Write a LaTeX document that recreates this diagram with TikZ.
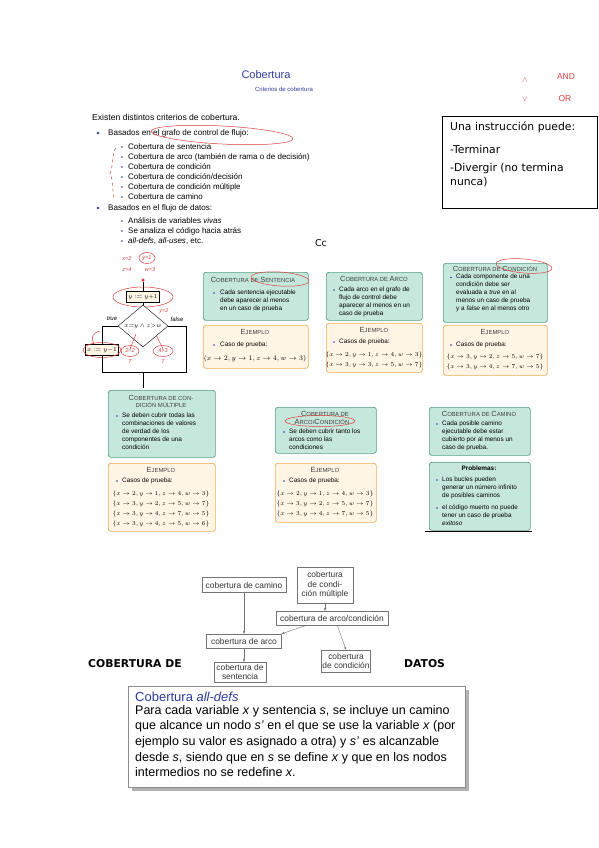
\documentclass[tikz,border=0pt]{standalone}
\usepackage{amsmath,amssymb}
\usepackage{fontspec}
\setmainfont{Liberation Sans}
\newfontfamily\dejavu{DejaVu Sans}
\usetikzlibrary{arrows.meta,positioning,calc,shapes.geometric}
\definecolor{slideblue}{RGB}{45,60,160}
\definecolor{gfill}{RGB}{198,231,219}
\definecolor{gline}{RGB}{85,160,135}
\definecolor{ofill}{RGB}{255,245,228}
\definecolor{oline}{RGB}{240,172,85}
\definecolor{penred}{RGB}{222,62,62}
\newcommand{\fsz}[2]{\fontsize{#1}{#2}\selectfont}
\newcommand{\scap}[2]{{\fsz{7.4}{8}#1}{\fsz{5.9}{8}#2}}

\begin{document}
\begin{tikzpicture}[x=1pt,y=-1pt,
  txt/.style={anchor=west,inner sep=0pt,font=\fsz{8.1}{9}},
  bul/.style={circle,fill=slideblue,inner sep=0pt,minimum size=2.6pt},
  bul2/.style={circle,fill=slideblue,inner sep=0pt,minimum size=1.9pt},
  gb/.style={draw=gline,fill=gfill,rounded corners=2.5pt,line width=0.7pt,anchor=north west,inner sep=0pt},
  ob/.style={draw=oline,fill=ofill,rounded corners=2.5pt,line width=0.7pt,anchor=north west,inner sep=0pt},
  ttl/.style={inner sep=0pt,text=black!75,align=center},
  bt/.style={anchor=north west,inner sep=0pt,align=left,font=\fsz{6.4}{8}},
  bb/.style={circle,fill=slideblue,inner sep=0pt,minimum size=1.7pt},
  ex/.style={inner sep=0pt,font=\fsz{6}{8}},
  fbox/.style={draw,line width=0.9pt,fill=ofill,inner sep=1.5pt,minimum width=33,minimum height=11,font=\fsz{6.5}{8}},
  hw/.style={text=penred,inner sep=0pt,font=\fsz{5.5}{6}\itshape},
  pen/.style={draw=penred,line width=0.5pt},
  cb/.style={draw=black!55,fill=white,inner sep=1pt,align=center,font=\fsz{8.4}{9.5},text=black!80},
  da/.style={draw=black!55,-{Stealth[length=3pt,width=2.5pt]}}]
\newcommand{\caso}[4]{$\{x\to#1, y\to#2, z\to#3, w\to#4\}$}
\fill[white] (0,0) rectangle (599,848);
\useasboundingbox (0,0) rectangle (599,848);
% Slide title and list
\node[inner sep=0pt,text=slideblue,font=\fsz{11}{12}] (sTitle) at (266,75) {Cobertura};
\node[inner sep=0pt,text=slideblue,font=\fsz{6}{7}] (sSub) at (284,89) {Criterios de cobertura};
\node[txt,font=\fsz{8.6}{9}] (tExist) at (92,117) {Existen distintos criterios de cobertura.};
\node[bul] (b1) at (98,133) {};
\node[txt] (tGrafo) at (108,133) {Basados en el grafo de control de flujo:};
\foreach \t [count=\i] in {Cobertura de sentencia, Cobertura de arco (también de rama o de decisión),
  Cobertura de condición, Cobertura de condición/decisión, Cobertura de condición múltiple, Cobertura de camino}
{
  \node[bul2] (bg\i) at (122,137+10*\i) {};
  \node[txt,font=\fsz{8}{9}] (tg\i) at (128,137+10*\i) {\t};
}
\node[bul] (b2) at (98,208) {};
\node[txt] (tDatos) at (108,208) {Basados en el flujo de datos:};
\foreach \t [count=\i] in {Análisis de variables \emph{vivas}, Se analiza el código hacia atrás,
  {\emph{all-defs}, \emph{all-uses}, etc.}}
{
  \node[bul2] (bd\i) at (122,211+10*\i) {};
  \node[txt,font=\fsz{8}{9}] (td\i) at (128,211+10*\i) {\t};
}
\draw[pen,rotate around={-3:(222,135)}] (222,135) ellipse (71 and 9);
\draw[pen,dashed] (116,148) .. controls (112,150) and (113,170) .. (110,173) .. controls (113,176) and (112,195) .. (115,200);
% Note box and marks
\node[draw,line width=0.6pt,minimum width=155,minimum height=92,anchor=north west,inner sep=0pt] (nBox) at (442,116) {};
\node[txt,font=\dejavu\fsz{10.8}{12}] (nA) at (450,127) {Una instrucción puede:};
\node[txt,font=\dejavu\fsz{10.8}{12}] (nB) at (450,149) {-Terminar};
\node[anchor=north west,inner sep=0pt,align=left,font=\dejavu\fsz{10.8}{14}] (nC) at (450,163) {-Divergir (no termina\\nunca)};
\node[text=penred,inner sep=0pt,font=\fsz{8}{9}] (hWedge) at (525,80) {$\wedge$};
\node[text=penred,inner sep=0pt,font=\fsz{8.5}{9}] (hAnd) at (566,77) {AND};
\node[text=penred,inner sep=0pt,font=\fsz{8}{9}] (hVee) at (525,99) {$\vee$};
\node[text=penred,inner sep=0pt,font=\fsz{8.5}{9}] (hOr) at (565,99) {OR};
\node[inner sep=0pt,font=\dejavu\fsz{9.5}{11}] (cc) at (321,243) {Cc};
% Flow chart
\node[hw] (hX) at (127,259) {x=2};
\node[hw] (hY) at (147,258) {y=1};
\draw[pen] (hY) ellipse (8 and 5.5);
\node[hw] (hZ) at (127,270) {z=4};
\node[hw] (hW) at (150,270) {w=3};
\node[circle,fill=penred,inner sep=0pt,minimum size=3.5pt] (fIni) at (143,280) {};
\node[fbox] (fInc) at (143,297) {$y := y{+}1$};
\draw[pen] (fInc) ellipse (30 and 10);
\node[hw] (hY2) at (164,311) {y=2};
\node[draw,diamond,minimum width=50,minimum height=22,inner sep=0pt,font=\fsz{6}{7},fill=white] (fDec) at (143,326) {$x{=}y \wedge z{>}w$};
\node[fbox] (fAsg) at (102,350) {$x := y{-}1$};
\draw[pen] (fAsg) ellipse (19 and 7.5);
\node[inner sep=0pt,font=\fsz{6}{7}\itshape] (fTrue) at (112,319) {true};
\node[inner sep=0pt,font=\fsz{6}{7}\itshape] (fFalse) at (177,319) {false};
\coordinate (fJoin) at (143,372);
\coordinate (fFin) at (143,388);
\coordinate (fDer) at (186,326);
\draw (fIni) -- (fInc);
\draw (fInc) -- (fDec);
\draw (fDec.west) -| (fAsg.north);
\draw (fAsg.south) |- (fJoin);
\draw (fDec.east) -- (fDer) |- (fJoin);
\draw (fJoin) -- (fFin);
\node[hw] (h22) at (130,351) {2=2};
\draw[pen] (h22) ellipse (9 and 5.5);
\node[hw] (hT1) at (130,362) {T};
\node[hw] (h43) at (163,351) {4>3};
\draw[pen] (h43) ellipse (10 and 5.5);
\node[hw] (hT2) at (163,362) {T};
\draw[pen,-{Stealth[length=2pt]}] (136,334) -- (h22.north);
\draw[pen] (156,335) -- (h43.north);
\draw[pen,-{Stealth[length=2pt]}] (100,331) .. controls (92,333) and (91,338) .. (94,344);
\draw[pen] (194,391) -- (200,391) (194,394) -- (200,394) (194,397) -- (199,397);
% Sentencia
\node[gb,minimum width=105,minimum height=48] (gSent) at (203,272) {};
\node[ttl] (gSentT) at (253,280) {\scap{C}{OBERTURA DE }\scap{S}{ENTENCIA}};
\draw[pen,rotate around={-4:(280,279)}] (280,279) ellipse (29 and 7);
\node[bb] (gSentB) at (214,293) {};
\node[bt] (gSentX) at (220,289.5) {Cada sentencia ejecutable\\debe aparecer al menos\\en un caso de prueba};
\node[ob,minimum width=105,minimum height=43] (oSent) at (203,325) {};
\node[ttl] (oSentT) at (255,332) {\scap{E}{JEMPLO}};
\node[bb] (oSentB) at (214,345) {};
\node[txt,font=\fsz{6.4}{8}] (oSentX) at (220,345) {Caso de prueba:};
\node[ex,font=\fsz{6.6}{8}] (oSentM) at (255,359) {$(x\to2, y\to1, z\to4, w\to3)$};
% Arco
\node[gb,minimum width=96,minimum height=48] (gArco) at (326,272) {};
\node[ttl] (gArcoT) at (374,278.5) {\scap{C}{OBERTURA DE }\scap{A}{RCO}};
\node[bb] (gArcoB) at (334,290) {};
\node[bt] (gArcoX) at (339,286.5) {Cada arco en el grafo de\\flujo de control debe\\aparecer al menos en un\\caso de prueba};
\node[ob,minimum width=96,minimum height=49] (oArco) at (326,323) {};
\node[ttl] (oArcoT) at (374,329.5) {\scap{E}{JEMPLO}};
\node[bb] (oArcoB) at (334,342) {};
\node[txt,font=\fsz{6.4}{8}] (oArcoX) at (339,342) {Casos de prueba:};
\node[ex,font=\fsz{5.7}{8}] (oArco1) at (374,355) {\caso{2}{1}{4}{3}};
\node[ex,font=\fsz{5.7}{8}] (oArco2) at (374,365) {\caso{3}{3}{5}{7}};
% Condicion
\node[gb,minimum width=104,minimum height=59] (gCond) at (443,263) {};
\node[ttl] (gCondT) at (495,268.8) {\scap{C}{OBERTURA DE }\scap{C}{ONDICIÓN}};
\draw[pen,rotate around={-5:(524,266)}] (524,266) ellipse (28 and 7);
\node[bb] (gCondB) at (451,277.5) {};
\node[bt] (gCondX) at (456,274) {Cada componente de una\\condición debe ser\\evaluada a \emph{true} en al\\menos un caso de prueba\\y a \emph{false} en al menos otro};
\node[ob,minimum width=104,minimum height=50] (oCond) at (443,325) {};
\node[ttl] (oCondT) at (495,332) {\scap{E}{JEMPLO}};
\node[bb] (oCondB) at (451,345) {};
\node[txt,font=\fsz{6.4}{8}] (oCondX) at (456,345) {Casos de prueba:};
\node[ex] (oCond1) at (495,357) {\caso{3}{2}{5}{7}};
\node[ex] (oCond2) at (495,367) {\caso{3}{4}{7}{5}};
% Condicion multiple
\node[gb,minimum width=107,minimum height=67] (gMult) at (108,390) {};
\node[ttl,font=\fsz{5.9}{7}] (gMultT) at (161,401.5) {\scap{C}{OBERTURA DE CON-}\\DICIÓN MÚLTIPLE};
\node[bb] (gMultB) at (117,416) {};
\node[bt] (gMultX) at (122,412.5) {Se deben cubrir todas las\\combinaciones de valores\\de verdad de los\\componentes de una\\condición};
\node[ob,minimum width=107,minimum height=68] (oMult) at (108,463) {};
\node[ttl] (oMultT) at (161,470) {\scap{E}{JEMPLO}};
\node[bb] (oMultB) at (117,481) {};
\node[txt,font=\fsz{6.4}{8}] (oMultX) at (122,481) {Casos de prueba:};
\node[ex] (oMult1) at (161,494) {\caso{2}{1}{4}{3}};
\node[ex] (oMult2) at (161,504) {\caso{3}{2}{5}{7}};
\node[ex] (oMult3) at (161,514) {\caso{3}{4}{7}{5}};
\node[ex] (oMult4) at (161,524) {\caso{3}{4}{5}{6}};
% Arco/condicion
\node[gb,minimum width=101,minimum height=46] (gAC) at (275,407) {};
\node[ttl] (gACT) at (325,414) {\scap{C}{OBERTURA DE}};
\node[ttl] (gACT2) at (322,422) {\scap{A}{RCO/}\scap{C}{ONDICIÓN}};
\draw[pen] (320,421) ellipse (35 and 5.5);
\node[bb] (gACB) at (284,432) {};
\node[bt] (gACX) at (289,428.5) {Se deben cubrir tanto los\\arcos como las\\condiciones};
\node[ob,minimum width=101,minimum height=59] (oAC) at (275,463) {};
\node[ttl] (oACT) at (325,470) {\scap{E}{JEMPLO}};
\node[bb] (oACB) at (284,481) {};
\node[txt,font=\fsz{6.4}{8}] (oACX) at (289,481) {Casos de prueba:};
\node[ex] (oAC1) at (325,494) {\caso{2}{1}{4}{3}};
\node[ex] (oAC2) at (325,504) {\caso{3}{2}{5}{7}};
\node[ex] (oAC3) at (325,514) {\caso{3}{4}{7}{5}};
% Camino y problemas
\node[gb,minimum width=101,minimum height=48] (gCam) at (429,407) {};
\node[ttl] (gCamT) at (479,414) {\scap{C}{OBERTURA DE }\scap{C}{AMINO}};
\node[bb] (gCamB) at (437,424) {};
\node[bt] (gCamX) at (442,420.5) {Cada posible camino\\ejecutable debe estar\\cubierto por al menos un\\caso de prueba.};
\node[gb,minimum width=101,minimum height=68] (gProb) at (429,462) {};
\node[ttl,font=\bfseries\fsz{6.4}{7},text=black] (gProbT) at (479,468) {Problemas:};
\node[bb] (gProbB1) at (437,480) {};
\node[bt] (gProbX1) at (442,476.5) {Los bucles pueden\\generar un número infinito\\de posibles caminos};
\node[bb] (gProbB2) at (437,508) {};
\node[bt] (gProbX2) at (442,504.5) {el código muerto no puede\\tener un caso de prueba\\\emph{exitoso}};
\draw[line width=0.8pt] (425,531) -- (532,531);
% Jerarquia de criterios
\node[cb,minimum width=84,minimum height=15] (dCam) at (244,585) {cobertura de camino};
\node[cb,minimum width=56,minimum height=36] (dMult) at (325,585) {cobertura\\de condi-\\ción múltiple};
\node[cb,minimum width=112,minimum height=14] (dAC) at (332,618) {cobertura de arco/condición};
\node[cb,minimum width=75,minimum height=14] (dArco) at (244,641) {cobertura de arco};
\node[cb,minimum width=52,minimum height=20] (dSent) at (240,672) {cobertura de\\sentencia};
\node[cb,minimum width=48,minimum height=22] (dCond) at (346,661) {cobertura\\de condición};
\draw[da] (dCam) -- (dArco);
\draw[da] (dMult.south) -- (dMult.south |- dAC.north);
\draw[da] (dAC.196) -- (dArco.north east);
\draw[da] (dAC.-54) -- (dCond.north);
\draw[da] (dArco.south) -- (dArco.south |- dSent.north);
\node[inner sep=0pt,font=\dejavu\bfseries\fsz{10.8}{12},anchor=west] (lCob) at (88,664) {COBERTURA DE};
\node[inner sep=0pt,font=\dejavu\bfseries\fsz{10.8}{12},anchor=west] (lDat) at (404,664) {DATOS};
% all-defs
\fill[black!30] (132,690) rectangle (469,791);
\node[draw=black!45,fill=white,minimum width=337,minimum height=101,anchor=north west,inner sep=0pt] (bDefs) at (128,686) {};
\node[txt,text=slideblue,font=\fsz{13}{14}] (bDefsT) at (135,697) {Cobertura \emph{all-defs}};
\node[anchor=north west,inner sep=0pt,align=left,font=\fsz{12.5}{15.6}] (bDefsX) at (135,705) {Para cada variable \emph{x} y sentencia \emph{s}, se incluye un camino\\que alcance un nodo \emph{s'} en el que se use la variable \emph{x} (por\\ejemplo su valor es asignado a otra) y \emph{s'} es alcanzable\\desde \emph{s}, siendo que en \emph{s} se define \emph{x} y que en los nodos\\intermedios no se redefine \emph{x}.};
\end{tikzpicture}
\end{document}
